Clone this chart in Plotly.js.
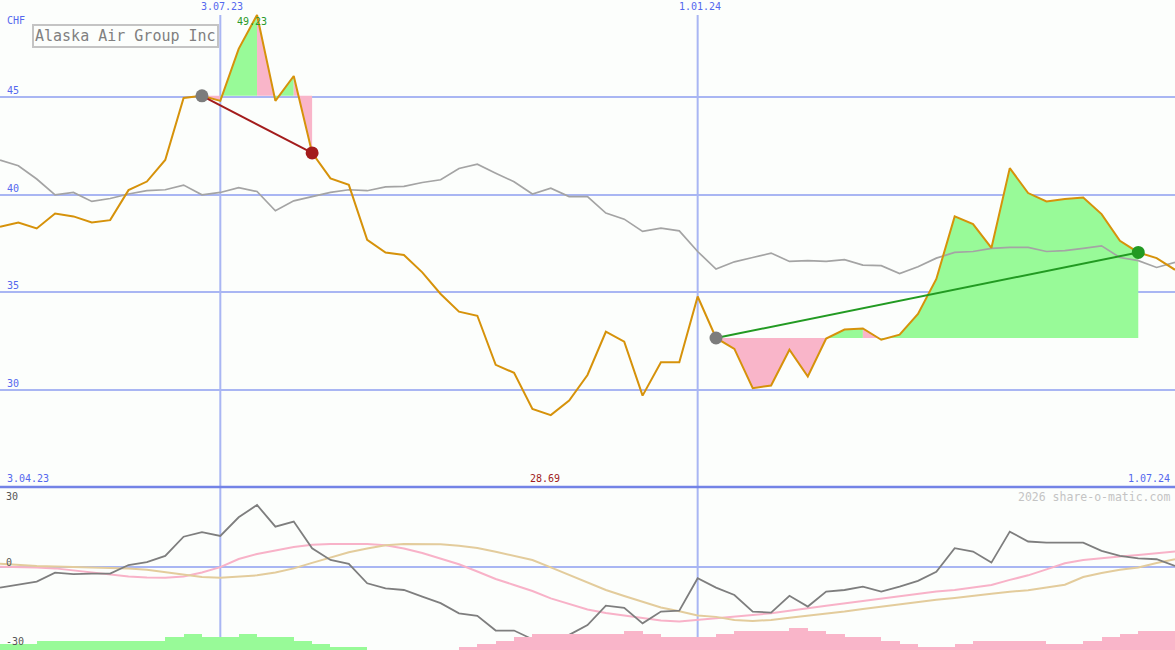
<!DOCTYPE html>
<html>
<head>
<meta charset="utf-8">
<script src="https://cdn.plot.ly/plotly-3.0.1.min.js"></script>
<style>
  html, body { margin: 0; padding: 0; background: #fcfefc; }
  #chart { width: 1175px; height: 650px; }
</style>
</head>
<body>
<div id="chart"></div>
<script>
// ---------- data ----------
const dates = [
  '2023-04-10','2023-04-17','2023-04-24','2023-05-01','2023-05-08','2023-05-15','2023-05-22','2023-05-29',
  '2023-06-05','2023-06-12','2023-06-19','2023-06-26','2023-07-03','2023-07-10','2023-07-17','2023-07-24',
  '2023-07-31','2023-08-07','2023-08-14','2023-08-21','2023-08-28','2023-09-04','2023-09-11','2023-09-18',
  '2023-09-25','2023-10-02','2023-10-09','2023-10-16','2023-10-23','2023-10-30','2023-11-06','2023-11-13',
  '2023-11-20','2023-11-27','2023-12-04','2023-12-11','2023-12-18','2023-12-25','2024-01-01','2024-01-08',
  '2024-01-15','2024-01-22','2024-01-29','2024-02-05','2024-02-12','2024-02-19','2024-02-26','2024-03-04',
  '2024-03-11','2024-03-18','2024-03-25','2024-04-01','2024-04-08','2024-04-15','2024-04-22','2024-04-29',
  '2024-05-06','2024-05-13','2024-05-20','2024-05-27','2024-06-03','2024-06-10','2024-06-17','2024-06-24',
  '2024-07-01'
];

// share price (CHF)
const price = [
  38.36, 38.58, 38.27, 39.04, 38.89, 38.58, 38.70, 40.24, 40.68, 41.79, 44.97, 45.08, 44.82,
  47.49, 49.23, 44.82, 46.10, 42.15, 40.84, 40.51, 37.69, 37.04, 36.91, 36.02, 34.91, 34.00,
  33.79, 31.27, 30.86, 29.01, 28.69, 29.44, 30.75, 32.97, 32.46, 29.69, 31.40, 31.40, 34.78,
  32.65, 32.09, 30.07, 30.21, 32.05, 30.67, 32.62, 33.08, 33.14, 32.56, 32.82, 33.88, 35.68,
  38.89, 38.50, 37.27, 41.37, 40.09, 39.66, 39.78, 39.86, 39.01, 37.64, 37.04, 36.75, 36.15
];

// benchmark index, rescaled to the price axis
const benchmark = [
  41.78, 41.49, 40.81, 40.00, 40.12, 39.66, 39.81, 40.04, 40.21, 40.26, 40.50, 40.00, 40.12,
  40.37, 40.17, 39.18, 39.69, 39.91, 40.12, 40.26, 40.21, 40.41, 40.43, 40.63, 40.77, 41.35,
  41.57, 41.11, 40.67, 40.04, 40.34, 39.91, 39.91, 39.06, 38.75, 38.12, 38.29, 38.15, 37.09,
  36.19, 36.56, 36.78, 37.01, 36.58, 36.62, 36.58, 36.67, 36.39, 36.36, 35.96, 36.31, 36.75,
  37.04, 37.09, 37.25, 37.30, 37.30, 37.09, 37.13, 37.25, 37.38, 36.78, 36.62, 36.27, 36.53
];

// lower panel oscillator and its two averages
const momentum = [
  -8.4, -7.0, -5.9, -2.2, -2.8, -2.6, -2.6, 1.0, 2.2, 4.8, 12.8, 14.7, 13.1,
  20.9, 26.0, 17.0, 19.1, 8.0, 3.1, 1.5, -6.6, -8.7, -9.4, -12.2, -14.9, -19.1,
  -20.2, -26.3, -26.3, -29.9, -31.6, -28.1, -24.0, -15.9, -16.8, -23.3, -18.4, -18.0, -4.5,
  -8.4, -11.5, -18.4, -18.8, -11.8, -16.3, -10.1, -9.4, -8.0, -10.1, -8.0, -5.6, -1.8,
  8.0, 6.6, 2.0, 14.9, 10.8, 10.3, 10.3, 10.3, 6.9, 4.8, 3.8, 3.4, 0.6
];
const avgFast = [
  0.3, 0.2, 0.0, -0.4, -1.3, -2.1, -3.1, -3.8, -4.2, -4.3, -3.8, -2.1, 0.1,
  3.5, 5.6, 7.1, 8.5, 9.4, 9.8, 9.8, 9.8, 9.2, 7.9, 6.0, 3.8, 1.3,
  -1.7, -4.8, -7.3, -9.8, -12.9, -15.2, -17.5, -19.0, -20.0, -21.0, -22.1, -22.5, -21.9,
  -21.0, -20.4, -19.8, -19.1, -17.9, -17.0, -16.0, -15.0, -14.0, -12.9, -11.9, -10.8, -10.0,
  -9.4, -8.5, -7.3, -5.2, -3.3, -0.8, 1.7, 3.1, 4.0, 4.6, 5.2, 5.8, 6.6
];
const avgSlow = [
  1.5, 1.0, 0.6, 0.4, 0.2, 0.2, 0.1, -0.4, -1.0, -2.1, -3.1, -4.0, -4.3,
  -3.9, -3.3, -2.1, -0.4, 1.9, 4.2, 6.3, 7.9, 9.2, 9.8, 9.8, 9.7, 9.0,
  8.1, 6.5, 4.8, 3.1, 0.0, -3.1, -6.5, -9.4, -11.9, -14.4, -16.7, -18.3, -20.0,
  -20.6, -21.9, -22.3, -21.9, -21.0, -20.2, -19.2, -18.4, -17.3, -16.3, -15.4, -14.5, -13.5,
  -12.7, -11.7, -11.0, -10.1, -9.5, -8.4, -7.2, -4.0, -2.3, -1.0, 0.0, 1.8, 3.4
];
// weekly histogram at the foot of the lower panel (one bar per week)
const histogram = [
  2, 2, 3, 3, 3, 3, 3, 3, 3, 4, 5, 4, 4, 5, 4, 4, 3, 2, 1, 1, 0, 0, 0, 0, 0,
  -1, -2, -3, -4, -5, -5, -5, -5, -5, -6, -5, -4, -4, -4, -5, -6, -6, -6, -7, -6,
  -5, -4, -4, -3, -2, -1, -1, -2, -3, -3, -3, -3, -2, -2, -3, -4, -5, -6, -6
];

// trades: entry / exit dates
const tradeEntry = ['2023-06-26', '2024-01-08'];
const tradeExit  = ['2023-08-07', '2024-06-17'];

const title = 'Alaska Air Group Inc';
const currency = 'CHF';
const priceTicks = [30, 35, 40, 45];
const dateTicks = ['2023-07-03', '2024-01-01'];
const dateTickLabels = ['3.07.23', '1.01.24'];
const startLabel = '3.04.23';
const endLabel = '1.07.24';
const lowerTickLabels = ['30', '0', '-30'];
const copyright = '2026 share-o-matic.com';

// ---------- styling ----------
const W = 1175, H = 650;
const lowerH = 163;
const split = lowerH / H;
const FONT = 'DejaVu Sans Mono, monospace';
const BLUE_TXT = '#5468ee';
const GRID = '#a9b6f3';
const GREEN_FILL = '#98fa98';
const PINK_FILL = '#f9b5c9';
const ORANGE = '#d6920a';
const GREY = '#a4a4a4';
const RED = '#a31c1c';
const GREEN = '#229a22';

const traces = [];

// trade fills
tradeEntry.forEach((ent, k) => {
  const s = dates.indexOf(ent), e = dates.indexOf(tradeExit[k]);
  const base = price[s];
  let runStart = s;
  let runColor = price[s + 1] > base;
  const flush = (a, b, up) => {
    const xs = [dates[a]], ys = [base];
    for (let i = a; i <= b; i++) { xs.push(dates[i]); ys.push(price[i]); }
    xs.push(dates[b]); ys.push(base);
    traces.push({
      x: xs, y: ys, xaxis: 'x', yaxis: 'y', type: 'scatter', mode: 'lines',
      fill: 'toself', fillcolor: up ? GREEN_FILL : PINK_FILL,
      line: { width: 0, color: up ? GREEN_FILL : PINK_FILL }, hoverinfo: 'skip', showlegend: false
    });
  };
  for (let i = s + 1; i < e; i++) {
    const c = price[i + 1] > base;
    if (c !== runColor) { flush(runStart, i, runColor); runStart = i; runColor = c; }
  }
  flush(runStart, e, runColor);
});

// benchmark
traces.push({ x: dates, y: benchmark, xaxis: 'x', yaxis: 'y', type: 'scatter', mode: 'lines',
  line: { color: GREY, width: 1.7 }, hoverinfo: 'skip', showlegend: false });
// price
traces.push({ x: dates, y: price, xaxis: 'x', yaxis: 'y', type: 'scatter', mode: 'lines',
  line: { color: ORANGE, width: 2 }, hoverinfo: 'skip', showlegend: false });

// trade lines & markers
tradeEntry.forEach((ent, k) => {
  const s = dates.indexOf(ent), e = dates.indexOf(tradeExit[k]);
  const win = price[e] > price[s];
  const col = win ? GREEN : RED;
  traces.push({ x: [dates[s], dates[e]], y: [price[s], price[e]], xaxis: 'x', yaxis: 'y',
    type: 'scatter', mode: 'lines', line: { color: col, width: 2 }, hoverinfo: 'skip', showlegend: false });
  traces.push({ x: [dates[s], dates[e]], y: [price[s], price[e]], xaxis: 'x', yaxis: 'y',
    type: 'scatter', mode: 'markers', marker: { size: 13, color: ['#7c7c7c', col] },
    hoverinfo: 'skip', showlegend: false });
});

// lower panel
traces.push({ x: dates, y: avgFast, xaxis: 'x2', yaxis: 'y2', type: 'scatter', mode: 'lines',
  line: { color: '#f8b2c8', width: 2 }, hoverinfo: 'skip', showlegend: false });
traces.push({ x: dates, y: avgSlow, xaxis: 'x2', yaxis: 'y2', type: 'scatter', mode: 'lines',
  line: { color: '#e3cc9c', width: 2 }, hoverinfo: 'skip', showlegend: false });
traces.push({ x: dates, y: momentum, xaxis: 'x2', yaxis: 'y2', type: 'scatter', mode: 'lines',
  line: { color: '#7e7e7e', width: 1.8 }, hoverinfo: 'skip', showlegend: false });

const WEEK = 7 * 24 * 3600 * 1000;
traces.push({
  x: dates.slice(0, histogram.length), y: histogram.map(Math.abs),
  xaxis: 'x2', yaxis: 'y3', type: 'bar', width: WEEK, offset: 0,
  marker: { color: histogram.map(v => v >= 0 ? GREEN_FILL : PINK_FILL), line: { width: 0 } },
  hoverinfo: 'skip', showlegend: false
});

// ---------- annotations ----------
const ann = [];
const txt = (o) => Object.assign({ showarrow: false, font: { family: FONT, size: 10, color: BLUE_TXT } }, o);

ann.push(txt({ text: currency, xref: 'paper', yref: 'paper', x: 5 / W, y: 1 - 20 / H, xanchor: 'left', yanchor: 'middle' }));
priceTicks.forEach(v => ann.push(txt({ text: String(v), xref: 'paper', yref: 'y', x: 5 / W, y: v,
  xanchor: 'left', yanchor: 'bottom', yshift: -1 })));
dateTicks.forEach((d, i) => ann.push(txt({ text: dateTickLabels[i], xref: 'x', yref: 'paper', x: d, y: 1,
  xanchor: 'center', yanchor: 'top', yshift: 1, xshift: 2 })));
ann.push(txt({ text: startLabel, xref: 'paper', yref: 'paper', x: 5 / W, y: split, xanchor: 'left', yanchor: 'bottom', yshift: 1 }));
ann.push(txt({ text: endLabel, xref: 'paper', yref: 'paper', x: 1 - 3 / W, y: split, xanchor: 'right', yanchor: 'bottom', yshift: 1 }));

const maxV = Math.max(...price), minV = Math.min(...price);
ann.push(txt({ text: minV.toFixed(2), xref: 'x', yref: 'paper', x: dates[price.indexOf(minV)], y: split,
  xanchor: 'center', yanchor: 'bottom', xshift: -6, yshift: 1, font: { family: FONT, size: 10, color: '#a01c1c' } }));
ann.push(txt({ text: maxV.toFixed(2), xref: 'x', yref: 'y', x: dates[price.indexOf(maxV)], y: maxV,
  xanchor: 'center', yanchor: 'top', xshift: -5, yshift: 1, font: { family: FONT, size: 10, color: '#2a9a2a' } }));

ann.push(txt({ text: copyright, xref: 'paper', yref: 'paper', x: 1 - 3 / W, y: (H - 497) / H,
  xanchor: 'right', yanchor: 'middle', font: { family: FONT, size: 11.5, color: '#c4c4c4' } }));

const lowerY = [496, 562, 641];
lowerTickLabels.forEach((t, i) => ann.push(txt({ text: t, xref: 'paper', yref: 'paper', x: 4 / W,
  y: (H - lowerY[i]) / H, xanchor: 'left', yanchor: 'middle', font: { family: FONT, size: 10, color: '#555555' } })));

ann.push({ text: title, showarrow: false, xref: 'paper', yref: 'paper', x: 32 / W, y: 1 - 24 / H,
  xanchor: 'left', yanchor: 'top', bordercolor: '#c4c4c4', borderwidth: 2, borderpad: 1,
  bgcolor: 'rgba(252,254,252,0)', font: { family: FONT, size: 15, color: '#808080' } });

// ---------- shapes ----------
const shapes = [];
dateTicks.forEach(d => shapes.push({ type: 'line', xref: 'x', yref: 'paper', x0: d, x1: d, y0: 0, y1: 1 - 15 / H,
  line: { color: GRID, width: 2 }, layer: 'below' }));
shapes.push({ type: 'line', xref: 'paper', yref: 'paper', x0: 0, x1: 1, y0: split, y1: split,
  line: { color: '#7383e6', width: 2.5 }, layer: 'above' });

const layout = {
  width: W, height: H,
  margin: { l: 0, r: 0, t: 0, b: 0, pad: 0 },
  paper_bgcolor: '#fcfefc', plot_bgcolor: '#fcfefc',
  showlegend: false,
  bargap: 0,
  xaxis: { type: 'date', range: [dates[0], dates[dates.length - 1]], domain: [0, 1], anchor: 'y',
    showgrid: false, zeroline: false, showticklabels: false, ticks: '', showline: false },
  xaxis2: { type: 'date', matches: 'x', domain: [0, 1], anchor: 'y2',
    showgrid: false, zeroline: false, showticklabels: false, ticks: '', showline: false },
  yaxis: { domain: [split, 1], range: [25, 50], anchor: 'x', tickvals: priceTicks, showticklabels: false,
    showgrid: true, gridcolor: GRID, gridwidth: 2, zeroline: false, ticks: '', showline: false },
  yaxis2: { domain: [0, split], range: [-34.4, 33.5], anchor: 'x2', tickvals: [0], showticklabels: false,
    showgrid: true, gridcolor: GRID, gridwidth: 2, zeroline: false, ticks: '', showline: false },
  yaxis3: { overlaying: 'y2', anchor: 'x2', range: [0, 52], visible: false, showgrid: false, zeroline: false },
  annotations: ann,
  shapes: shapes
};

Plotly.newPlot('chart', traces, layout, { displayModeBar: false, staticPlot: true });
</script>
</body>
</html>
